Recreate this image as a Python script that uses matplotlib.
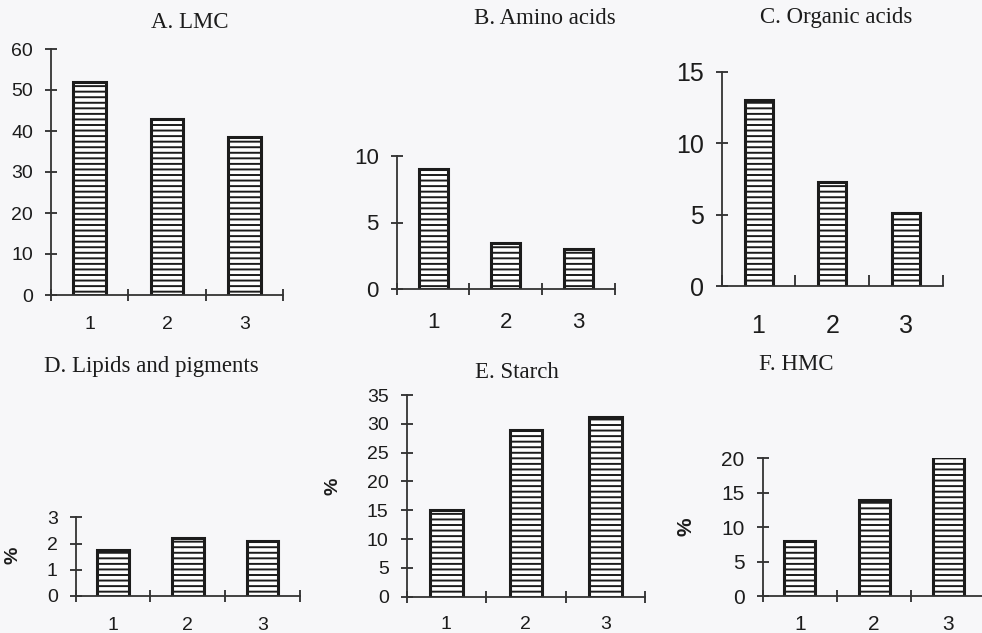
import matplotlib
matplotlib.use("Agg")
import matplotlib.pyplot as plt
import numpy as np

# ---- data ----
categories = ['1', '2', '3']
lmc = [52, 43, 38.5]
amino_acids = [9, 3.5, 3]
organic_acids = [13, 7.3, 5.1]
lipids_pigments = [1.75, 2.2, 2.1]
starch = [15, 29, 31.2]
hmc = [8, 14, 20.2]

titles = ['A. LMC', 'B. Amino acids', 'C. Organic acids',
          'D. Lipids and pigments', 'E. Starch', 'F. HMC']
yticks_list = [list(range(0, 61, 10)), [0, 5, 10], [0, 5, 10, 15],
               [0, 1, 2, 3], list(range(0, 36, 5)), [0, 5, 10, 15, 20]]
ylabels = ['', '', '', '%', '%', '%']

W, H = 982, 633
plt.rcParams['hatch.linewidth'] = 1.4
BG = '#f7f7f9'
INK = '#1c1c1c'

fig = plt.figure(figsize=(W / 100, H / 100), dpi=100, facecolor=BG)

# layout in pixels: x0, x1, y_top, y0, tick fontsize, xlabel pad, title (x, y), ylabel coords, bar width
layout = [
    (51, 283, 49, 295, 14, 15, (190, 22), None, 0.42),
    (396.7, 615, 155.7, 289.3, 16, 16, (545, 18), None, 0.40),
    (721.7, 942.7, 71.7, 286, 18, 20, (836, 17), None, 0.38),
    (75.7, 300, 517.3, 596, 14, 15, (151.7, 366.7), (-0.24, 0.52), 0.42),
    (406.7, 645, 395, 596.7, 14, 14, (517, 373), (-0.273, 0.545), 0.41),
    (762.7, 985.5, 458.3, 596, 15, 14, (796.7, 365), (-0.30, 0.50), 0.42),
]
series = [lmc, amino_acids, organic_acids, lipids_pigments, starch, hmc]

for i, (vals, lay) in enumerate(zip(series, layout)):
    x0, x1, yt, y0, fs, xpad, tpos, ylc, bw = lay
    ax = fig.add_axes([x0 / W, (H - y0) / H, (x1 - x0) / W, (y0 - yt) / H])
    ax.set_facecolor('none')
    pos = np.arange(len(categories)) + 0.5
    ax.bar(pos, vals, width=bw, facecolor='white', edgecolor=INK,
           linewidth=2.2, hatch='---')
    ax.set_xlim(0, 3)
    yt_vals = yticks_list[i]
    ax.set_ylim(0, yt_vals[-1])
    ax.set_yticks(yt_vals)
    ax.set_yticklabels([str(v) for v in yt_vals], fontsize=fs,
                       family='Liberation Sans', color=INK)
    # category separators as major ticks, labels as minor ticks
    ax.set_xticks([0, 1, 2, 3])
    ax.set_xticklabels([])
    ax.set_xticks(pos, minor=True)
    ax.set_xticklabels(categories, minor=True, fontsize=fs,
                       family='Liberation Sans', color=INK)
    xdir = 'in' if i == 2 else 'inout'
    ax.tick_params(axis='x', which='major', direction=xdir, length=8,
                   width=1.2, color=INK)
    ax.tick_params(axis='x', which='minor', length=0, pad=xpad)
    ax.tick_params(axis='y', direction='inout', length=8, width=1.2,
                   color=INK, pad=9)
    for s in ['top', 'right']:
        ax.spines[s].set_visible(False)
    for s in ['left', 'bottom']:
        ax.spines[s].set_color('#333333')
        ax.spines[s].set_linewidth(1.3)
    if ylabels[i]:
        ax.set_ylabel(ylabels[i], fontsize=fs, family='Liberation Sans',
                      fontweight='bold', color=INK)
        ax.yaxis.set_label_coords(*ylc)
    fig.text(tpos[0] / W, 1 - tpos[1] / H, titles[i], ha='center', va='center',
             fontsize=16.5, family='Liberation Serif', color=INK)

fig.savefig('out.png', dpi=100, facecolor=BG)
